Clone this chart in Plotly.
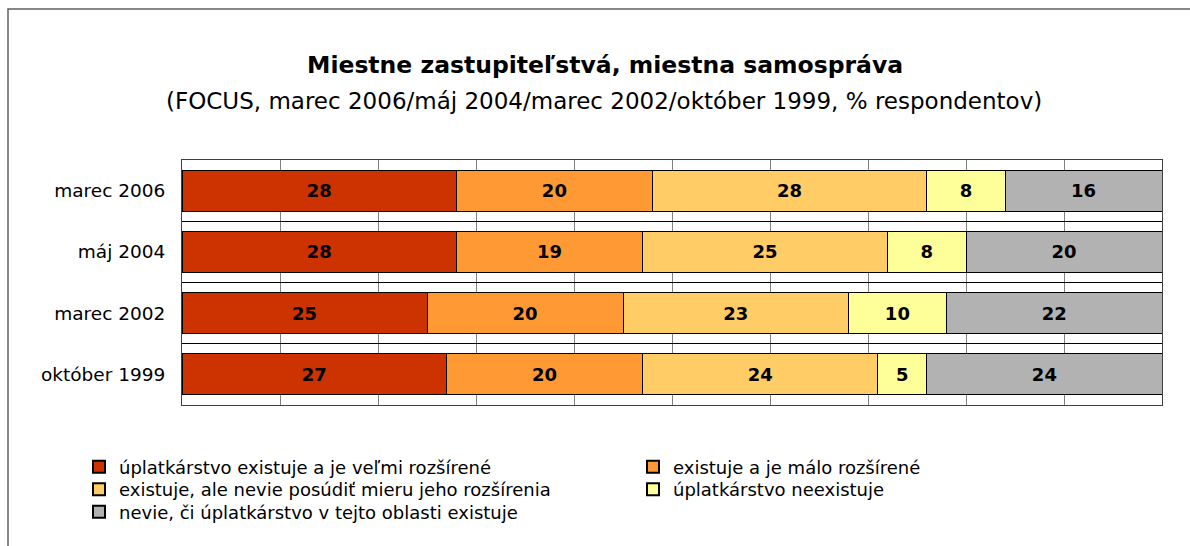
import plotly.graph_objects as go

categories = ["marec 2006", "máj 2004", "marec 2002", "október 1999"]
series_names = [
    "úplatkárstvo existuje a je veľmi rozšírené",
    "existuje a je málo rozšírené",
    "existuje, ale nevie posúdiť mieru jeho rozšírenia",
    "úplatkárstvo neexistuje",
    "nevie, či úplatkárstvo v tejto oblasti existuje",
]
very_widespread = [28, 28, 25, 27]
little_widespread = [20, 19, 20, 20]
cannot_judge = [28, 25, 23, 24]
not_exist = [8, 8, 10, 5]
dont_know = [16, 20, 22, 24]
colors = ["#CC3300", "#FF9933", "#FFCC66", "#FFFF99", "#B2B2B2"]
legend_rows = ["legend", "legend", "legend2", "legend2", "legend3"]

title = "<b>Miestne zastupiteľstvá, miestna samospráva</b>"
subtitle = "(FOCUS, marec 2006/máj 2004/marec 2002/október 1999, % respondentov)"

FONT = "DejaVu Sans"
W, H = 1190, 546
ML, MR, MT, MB = 182, 28, 160, 141
PW, PH = W - ML - MR, H - MT - MB

def px_x(x):
    return (x - ML) / PW

def px_y(y):
    return (H - MB - y) / PH

fig = go.Figure()
for name, vals, col, lg in zip(series_names,
                               [very_widespread, little_widespread, cannot_judge, not_exist, dont_know],
                               colors, legend_rows):
    fig.add_trace(go.Bar(
        y=categories, x=vals, name=name, orientation="h", legend=lg,
        marker=dict(color=col, line=dict(color="#000000", width=1)),
        text=[str(v) for v in vals], textposition="inside",
        insidetextanchor="middle", textangle=0, constraintext="none",
        textfont=dict(family=FONT, size=18, color="#000000", weight="bold"),
        hoverinfo="skip",
    ))

def legend_cfg(ycenter):
    return dict(
        orientation="h", x=px_x(79), xanchor="left", y=px_y(ycenter), yanchor="middle",
        entrywidth=509, entrywidthmode="pixels", traceorder="normal",
        font=dict(family=FONT, size=18, color="#000000"),
        itemsizing="constant", tracegroupgap=0, borderwidth=0,
        bgcolor="rgba(0,0,0,0)",
    )

fig.update_layout(
    barmode="stack", bargap=0.33,
    width=W, height=H,
    margin=dict(l=ML, r=MR, t=MT, b=MB, autoexpand=False),
    paper_bgcolor="white", plot_bgcolor="white",
    font=dict(family=FONT, color="#000000"),
    showlegend=True,
    legend=legend_cfg(467),
    legend2=legend_cfg(489.5),
    legend3=legend_cfg(512),
    xaxis=dict(range=[0, 100], dtick=10, showgrid=True, gridcolor="#808080", gridwidth=1,
               showticklabels=False, zeroline=False, showline=True, mirror=True,
               linecolor="#404040", linewidth=1, ticks="", fixedrange=True),
    yaxis=dict(autorange="reversed", showgrid=True, gridcolor="#000000", gridwidth=1,
               tickson="boundaries", ticks="", showline=True, mirror=True,
               linecolor="#404040", linewidth=1, ticklabelstandoff=12,
               tickfont=dict(family=FONT, size=18.5, color="#000000")),
    annotations=[
        dict(text=title, x=px_x(605), y=px_y(65), xref="paper", yref="paper",
             xanchor="center", yanchor="middle", showarrow=False,
             font=dict(family=FONT, size=23.5, color="#000000")),
        dict(text=subtitle, x=px_x(604), y=px_y(101), xref="paper", yref="paper",
             xanchor="center", yanchor="middle", showarrow=False,
             font=dict(family=FONT, size=23, color="#000000")),
    ],
    shapes=[
        dict(type="rect", xref="paper", yref="paper",
             x0=px_x(8), x1=px_x(1300), y0=px_y(700), y1=px_y(9),
             line=dict(color="#606060", width=1.5), layer="below"),
    ],
)

fig.write_html("out.html", config={"displayModeBar": False},
               post_script="document.body.style.margin='0';document.body.style.overflow='hidden';")
